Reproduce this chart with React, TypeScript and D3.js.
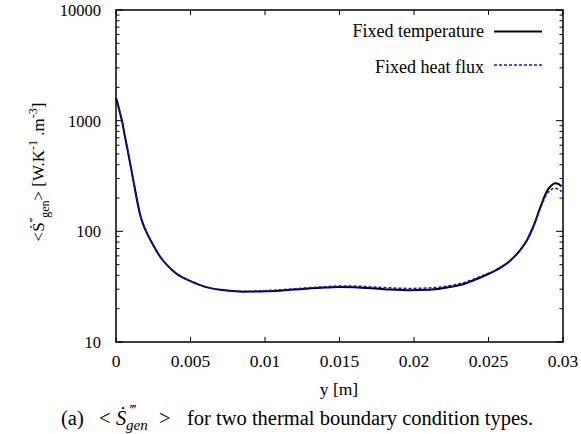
import React from "react";
import * as d3 from "d3";

const xTicks = [0, 0.005, 0.01, 0.015, 0.02, 0.025, 0.03];
const xTickLabels = ["0", "0.005", "0.01", "0.015", "0.02", "0.025", "0.03"];
const yTicks = [10, 100, 1000, 10000];
const yTickLabels = ["10", "100", "1000", "10000"];

const tempX = [0, 0.0001, 0.0002, 0.0003, 0.0004, 0.00055, 0.00074, 0.00095, 0.00116, 0.0014, 0.0016, 0.0018, 0.0021, 0.0025, 0.003, 0.0035, 0.004, 0.005, 0.006, 0.007, 0.0085, 0.01, 0.012, 0.014, 0.015, 0.016, 0.018, 0.0197, 0.021, 0.0225, 0.0235, 0.0245, 0.0255, 0.0265, 0.0271, 0.0276, 0.028, 0.0285, 0.0289, 0.0292, 0.02946, 0.0297, 0.0299];
const tempY = [1600, 1450, 1280, 1130, 1000, 780, 580, 410, 290, 195, 145, 118, 95, 75, 58, 48.5, 42, 35.5, 31.5, 29.6, 28.5, 28.7, 29.8, 31.0, 31.4, 31.2, 30.0, 29.3, 29.6, 31.5, 34, 38.5, 44.5, 55, 67, 84, 110, 168, 228, 258, 272, 268, 255];

const fluxX = [0, 0.0001, 0.0002, 0.0003, 0.0004, 0.00055, 0.00074, 0.00095, 0.00116, 0.0014, 0.0016, 0.0018, 0.0021, 0.0025, 0.003, 0.0035, 0.004, 0.005, 0.006, 0.007, 0.0085, 0.01, 0.012, 0.014, 0.015, 0.016, 0.018, 0.0197, 0.021, 0.0225, 0.0235, 0.0245, 0.0255, 0.0265, 0.0271, 0.0276, 0.028, 0.0285, 0.0289, 0.0292, 0.0294, 0.0297, 0.0299];
const fluxY = [1600, 1450, 1280, 1130, 1000, 780, 580, 410, 290, 195, 145, 118, 95, 75, 58, 48.5, 42, 35.5, 31.5, 29.7, 28.7, 29.1, 30.3, 31.6, 32.1, 32.0, 31.0, 30.5, 30.8, 32.4, 35, 39.3, 45, 55, 67, 84, 108, 163, 216, 238, 246, 240, 228];

const legendLabels = ["Fixed temperature", "Fixed heat flux"];

const W = 581, H = 434;
const L = 116, R = 563, T = 10, B = 342;
const FONT = "'Liberation Serif', 'Times New Roman', serif";
const BLUE = "#1010ee";

export default function App() {
  const x = d3.scaleLinear().domain([0, 0.03]).range([L, R]);
  const y = d3.scaleLog().domain([10, 10000]).range([B, T]);
  const line = d3.line<[number, number]>().x(d => x(d[0])).y(d => y(d[1])).curve(d3.curveMonotoneX);
  const tempPts = tempX.map((v, i) => [v, tempY[i]] as [number, number]);
  const fluxPts = fluxX.map((v, i) => [v, fluxY[i]] as [number, number]);

  const minor: number[] = [];
  for (let dec = 10; dec < 10000; dec *= 10) {
    for (let k = 2; k <= 9; k++) minor.push(dec * k);
  }

  return (
    <svg width={W} height={H} style={{ position: "absolute", left: 0, top: 0, background: "#fff" }} fontFamily={FONT}>
      <rect x={0} y={0} width={W} height={H} fill="#fff" />
      {xTicks.map((t, i) => (
        <g key={"xt" + i}>
          <line x1={x(t)} x2={x(t)} y1={B} y2={B - 5} stroke="#000" strokeWidth={1} />
          <line x1={x(t)} x2={x(t)} y1={T} y2={T + 5} stroke="#000" strokeWidth={1} />
          <text x={x(t)} y={367} textAnchor="middle" fontSize={17.5}>{xTickLabels[i]}</text>
        </g>
      ))}
      {yTicks.map((t, i) => (
        <g key={"yt" + i}>
          <line x1={L} x2={L + 7} y1={y(t)} y2={y(t)} stroke="#000" strokeWidth={1} />
          <line x1={R} x2={R - 7} y1={y(t)} y2={y(t)} stroke="#000" strokeWidth={1} />
          <text x={101} y={y(t) + 6} textAnchor="end" fontSize={16.5}>{yTickLabels[i]}</text>
        </g>
      ))}
      {minor.map((t, i) => (
        <g key={"ym" + i}>
          <line x1={L} x2={L + 3.5} y1={y(t)} y2={y(t)} stroke="#000" strokeWidth={1} />
          <line x1={R} x2={R - 3.5} y1={y(t)} y2={y(t)} stroke="#000" strokeWidth={1} />
        </g>
      ))}
      <path d={line(tempPts) || ""} fill="none" stroke="#000" strokeWidth={2} />
      <path d={line(fluxPts) || ""} fill="none" stroke={BLUE} strokeWidth={1.5} strokeDasharray="3,2" />
      <rect x={L} y={T} width={R - L} height={B - T} fill="none" stroke="#000" strokeWidth={1.5} />
      <text x={484} y={37} textAnchor="end" fontSize={18}>{legendLabels[0]}</text>
      <line x1={494} x2={542} y1={31.5} y2={31.5} stroke="#000" strokeWidth={2} />
      <text x={484} y={73} textAnchor="end" fontSize={18}>{legendLabels[1]}</text>
      <line x1={494} x2={542} y1={65} y2={65} stroke={BLUE} strokeWidth={1.5} strokeDasharray="3,2" />
      <text x={339} y={395} textAnchor="middle" fontSize={17.5}>y [m]</text>
      <text transform="translate(44,172) rotate(-90)" textAnchor="middle" fontSize={17}>
        {"<Ṡ"}
        <tspan dy={-7} fontSize={11}>{"‴"}</tspan>
        <tspan dy={12} fontSize={12}>gen</tspan>
        <tspan dy={-5}>{"> [W.K"}</tspan>
        <tspan dy={-7} fontSize={12}>-1</tspan>
        <tspan dy={7}>{" .m"}</tspan>
        <tspan dy={-7} fontSize={12}>-3</tspan>
        <tspan dy={7}>]</tspan>
      </text>
      <text y={425} fontSize={20.5}>
        <tspan x={61}>(a)</tspan>
        <tspan x={99}>{"<"}</tspan>
        <tspan x={116} fontStyle="italic">{"Ṡ"}</tspan>
        <tspan x={129} dy={-10} fontSize={15} fontStyle="italic">{"‴"}</tspan>
        <tspan x={126} dy={15} fontSize={15} fontStyle="italic">gen</tspan>
        <tspan x={159} dy={-5}>{">"}</tspan>
        <tspan x={187}>for two thermal boundary condition types.</tspan>
      </text>
    </svg>
  );
}
